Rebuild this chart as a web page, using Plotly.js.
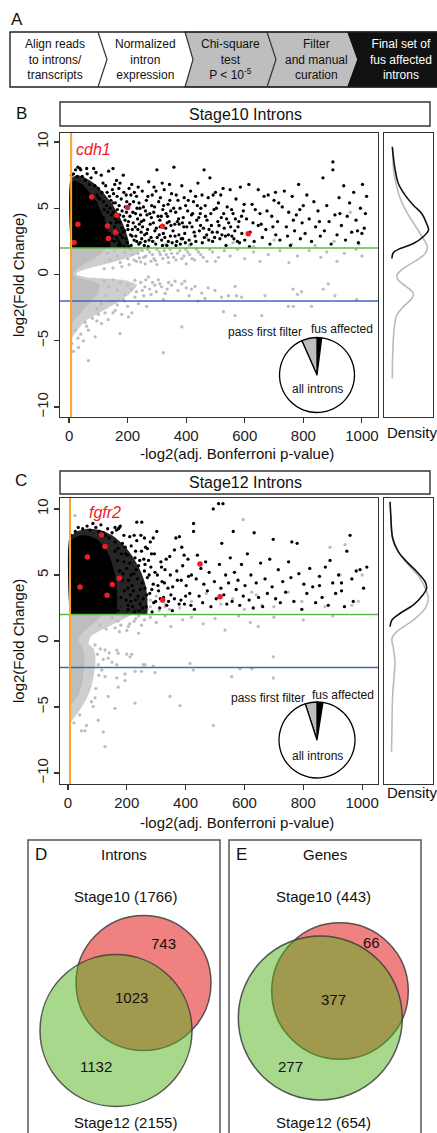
<!DOCTYPE html>
<html><head><meta charset="utf-8">
<script src="https://cdn.plot.ly/plotly-3.0.1.min.js"></script>
<style>html,body{margin:0;padding:0;background:#fff;}#chart{width:437px;height:1133px;}</style>
</head><body><div id="chart"></div>
<script>
// ---------------- DATA ----------------
const xTickVals = [0, 200, 400, 600, 800, 1000];
const yTickVals = [-10, -5, 0, 5, 10];
const foldThresholds = [2, -2];
const pThreshold = 7;

const flowSteps = ["Align reads<br>to introns/<br>transcripts", "Normalized<br>intron<br>expression",
  "Chi-square<br>test<br>P &lt; 10<sup>-5</sup>", "Filter<br>and manual<br>curation", "Final set of<br>fus affected<br>introns"];

// Stage10: outlines of the densest point clouds (core = solid, halo = dense)
const s10BlackCore = [[5,2],[5,6.8],[20,7.1],[45,6.8],[70,6.2],[95,5.4],[115,4.5],[130,3.6],[138,2.8],[142,2]];
const s10BlackHalo = [[5,2],[5,7.2],[25,7.5],[55,7.3],[90,6.8],[120,6.1],[148,5.3],[172,4.4],[190,3.5],[203,2.6],[207,2]];
const s10GrayCore = [[5,2],[125,2],[105,1.5],[68,1.0],[35,0.55],[18,0.2],[14,0],[30,-0.25],[70,-0.45],[105,-0.8],[95,-1.5],[68,-2.2],[40,-2.9],[20,-3.4],[5,-3.7]];
const s10GrayHalo = [[5,2],[255,2],[228,1.5],[170,1.05],[110,0.7],[60,0.42],[30,0.18],[25,0],[60,-0.2],[130,-0.3],[195,-0.45],[232,-0.8],[205,-1.5],[158,-2.2],[110,-2.8],[62,-3.4],[32,-4.1],[13,-4.7],[5,-4.9]];
const s10Black = [[15,7.6],[28,7.4],[40,7.9],[55,7.1],[62,7.6],[70,6.8],[75,7.3],[88,6.7],[95,6.0],[100,6.5],[105,5.7],[112,6.2],[118,5.5],[120,4.9],[125,6.7],[128,5.2],[132,4.7],[138,5.9],[140,5.0],[142,3.9],[145,4.5],[148,6.4],[155,3.6],[158,4.2],[162,2.8],[165,3.3],[168,4.0],[172,2.4],[176,3.0],[92,7.7],[110,7.5],[135,7.8],[84,8.0],[60,8.0],[30,8.1],[118,4.3],[126,3.6],[145,2.6],[150,5.4],[116,6.9],[130,6.2],[100,5.8],[92,5.4],[22,7.9],[45,7.4],[8,7.5],[150,8.0],[37,8.0],
[152,6.1],[158,5.4],[165,4.9],[170,6.5],[175,3.9],[178,5.7],[182,2.8],[186,4.4],[190,3.3],[195,6.0],[198,2.4],[203,4.0],[207,5.3],[210,3.0],[214,6.8],[218,4.7],[222,2.6],[226,3.6],[230,5.9],[234,4.2],[238,2.3],[242,5.0],[246,3.2],[250,6.3],[155,2.5],[160,3.1],[168,2.2],[173,4.5],[185,7.5],[192,5.1],[200,3.7],[212,2.2],[220,5.5],[228,2.9],[236,6.6],[244,4.5],[248,2.7],[162,7.1],[180,3.5],[205,6.5],[240,3.8],[216,3.4],[232,5.0],[196,4.7],[188,2.1],
[135,2.3],[138,3.1],[143,5.6],[147,2.9],[152,4.7],[156,6.8],[161,3.9],[164,5.9],[167,2.6],[171,5.2],[174,6.9],[177,2.2],[181,4.8],[184,3.2],[187,6.2],[191,4.1],[194,2.7],[197,5.5],[201,3.4],[204,2.1],[208,4.4],[211,6.0],[215,2.9],[219,3.9],[223,6.2],[227,4.6],[231,2.5],[235,3.4],[239,5.4],[243,2.4],[247,4.0],[251,3.6],[254,5.1],[257,2.2],[261,4.8],[265,3.1],[269,5.9],[273,2.6],[277,3.8],[281,4.3],[285,2.5],[289,4.7],[293,3.3],[297,6.3],[301,2.8],[306,5.5],[311,3.6],[315,4.4],[319,2.2],[323,5.2],[327,2.8],[331,4.6],[335,3.9],[339,2.5],[343,6.8],[347,4.8],[352,2.4],[357,5.0],[361,3.8],[365,2.2],[370,4.0],[375,3.0],[379,5.0],[383,2.7],[387,3.9],[393,5.8],[397,2.4],[402,3.6],[407,5.6],[412,3.9],[417,2.3],[422,4.6],[427,3.2],[433,2.5],[438,5.2],[443,4.3],[449,3.7],[454,6.0],[459,3.5],[465,5.2],[471,4.1],[477,2.6],[484,4.6],[489,3.2],[497,2.8],[503,5.0],[512,3.7],[518,6.0],[528,4.6],[534,2.9],[544,3.0],[555,4.9],[563,2.7],[577,3.6],[589,4.4],
[255,4.1],[260,2.5],[264,5.6],[268,3.4],[272,7.0],[276,4.6],[280,2.8],[284,6.0],[288,3.9],[292,5.1],[296,2.3],[300,7.9],[304,4.4],[308,3.0],[312,5.8],[316,2.6],[320,4.9],[325,6.4],[330,3.5],[334,2.2],[338,5.3],[342,4.0],[346,2.9],[350,6.1],[355,3.3],[358,8.1],[364,4.7],[368,2.5],[372,5.6],[376,3.8],[380,2.3],[385,6.7],[390,4.3],[395,3.1],[398,5.2],[258,3.0],[266,4.5],[282,5.2],[298,3.5],[310,4.1],[322,3.1],[336,4.4],[348,3.7],[362,2.9],[374,4.2],[388,2.7],[270,2.1],[290,6.6],[318,6.9],[344,5.6],[366,6.0],[392,3.6],
[405,4.8],[410,2.6],[415,6.3],[420,3.6],[425,5.5],[430,2.9],[436,4.1],[440,6.9],[445,3.3],[450,5.0],[455,2.4],[461,7.9],[466,4.4],[470,3.0],[475,5.8],[481,7.3],[486,3.7],[490,2.5],[495,4.9],[500,6.2],[506,3.2],[510,5.4],[515,2.7],[520,4.3],[526,6.5],[530,3.5],[536,2.2],[540,5.1],[545,3.9],[550,6.4],[556,2.9],[560,4.6],[566,3.3],[570,5.7],[575,2.5],[580,4.0],[585,6.6],[590,3.1],[595,4.8],[600,2.6],[418,4.5],[448,4.6],[478,3.4],[508,4.0],[538,4.2],[568,4.2],[598,5.3],[432,5.9],[462,2.8],[492,6.0],[522,3.0],[552,3.6],[582,2.4],
[606,4.2],[614,6.8],[618,3.2],[625,5.3],[632,2.5],[646,6.4],[646,3.7],[652,4.6],[660,2.8],[666,5.9],[672,3.4],[680,6.0],[686,2.3],[692,4.4],[700,5.6],[706,3.0],[712,4.0],[720,2.6],[728,5.1],[735,6.3],[742,3.6],[750,4.7],[756,2.2],[762,5.9],[770,3.3],[776,4.5],[784,6.8],[790,2.7],[796,3.9],[800,5.2],[616,2.1],[636,4.9],[656,3.8],[676,4.8],[696,3.6],[716,5.4],[746,2.9],[766,4.1],[788,4.9],[628,3.9],[705,6.2],
[806,3.1],[812,6.0],[820,4.2],[828,2.5],[836,5.5],[842,3.6],[850,4.8],[858,2.9],[867,7.3],[872,3.3],[880,5.2],[888,4.0],[895,2.3],[901,8.5],[901,7.9],[908,4.5],[915,3.0],[922,5.8],[930,3.7],[938,6.7],[944,2.6],[950,4.4],[958,5.4],[965,3.2],[972,6.2],[980,4.1],[988,2.4],[995,5.0],[1000,3.1],[1002,6.8],[1008,3.5],[1012,4.6],[1016,5.9],[855,4.0],[925,4.6],[985,3.3]];
const s10Gray = [[250,1.8],[262,1.4],[275,1.7],[290,1.2],[300,1.9],[312,1.5],[325,1.8],[338,1.3],[350,1.6],[365,1.1],[378,1.8],[392,1.4],[405,1.7],[420,1.2],[435,1.9],[450,1.5],[471,1.0],[490,1.7],[510,1.3],[530,1.8],[550,1.4],[575,1.9],[600,1.2],[630,1.7],[652,1.0],[680,1.5],[720,1.8],[751,0.9],[780,1.4],[820,1.8],[860,1.3],[880,1.7],[915,1.0],[940,1.6],[980,1.9],[1000,1.4],[230,1.0],[260,0.8],[300,0.75],[340,0.9],[400,0.8],[205,0.75],[180,0.6],[150,0.5],[120,0.45],[280,1.0],[240,1.25],[215,1.5],
[130,1.6],[140,1.1],[155,1.8],[165,1.4],[175,0.9],[190,1.7],[200,1.2],[210,1.9],[222,1.1],[235,1.6],[245,0.95],[255,1.3],[268,1.9],[285,1.5],[295,1.05],[308,1.7],[320,1.2],[332,1.5],[345,1.9],[357,1.3],[370,1.6],[385,1.2],[398,1.9],[412,1.5],[428,1.1],[442,1.7],[458,1.3],[480,1.9],[500,1.0],
[120,-0.5],[135,-0.9],[150,-0.4],[165,-1.2],[175,-0.6],[190,-1.5],[200,-0.8],[212,-1.1],[230,-1.3],[245,-0.6],[255,-1.6],[262,-0.4],[275,-1.1],[285,-0.6],[298,-1.3],[310,-0.7],[322,-1.9],[335,-1.1],[350,-0.8],[372,-1.2],[395,-0.5],[410,-1.6],[430,-0.9],[440,-2.0],[475,-1.0],[140,-2.0],[165,-2.3],[190,-2.0],[125,-1.6],[110,-2.2],[95,-2.6],[80,-3.3],[55,-3.6],[100,-3.0],
[225,-0.43],[259,-0.93],[271,-0.18],[293,-0.8],[305,-0.4],[316,-0.93],[328,-1.43],[340,-0.6],[362,-0.5],[385,-0.7],[400,-1.0],[418,-1.1],[453,-1.4],[464,-1.8],[498,-1.2],[521,-1.7],[527,-2.8],[544,-1.6],[567,-0.9],[567,-3.1],[572,-1.6],[589,-1.7],[658,-3.1],[669,-1.6],[749,-2.4],[765,-1.1],[766,-2.4],[780,-1.5],[794,-1.3],[828,-2.4],[868,-1.1],[885,-0.7],[908,-1.6],[982,-1.9],[385,-3.95],[322,-5.9],[174,-4.45],[66,-6.5],[32,-5.5],[89,-4.7],[49,-5.0],[111,-3.7],[20,-4.2],[123,-2.9],[157,-2.7],[180,-3.0],[203,-3.2],[237,-2.2],[265,-2.4],[225,-1.7],[185,-1.9],[214,-2.9],[134,-3.4],[66,-4.2],[9,-5.2],[250,-1.2],[280,-1.5],[200,-2.4],[150,-2.9],[95,-3.5],[60,-3.9],[30,-4.8],[15,-5.8],[40,-4.5],
[290,2.5],[330,2.3],[410,2.2],[470,2.8],[560,2.4],[630,2.1],[700,2.6],[760,2.3],[840,2.2],[905,2.5],[990,2.3],[960,4.7]];
const s10Red = [[77,5.86],[200,5.06],[163,4.48],[30,3.80],[131,3.67],[159,3.19],[134,2.72],[319,3.65],[612,3.07],[17,2.41]];

// Stage12
const s12BlackCore = [[5,2],[5,7.4],[20,7.8],[50,8.0],[80,7.9],[105,7.6],[128,7.0],[145,6.2],[158,5.2],[166,4.1],[168,3.0],[165,2]];
const s12BlackHalo = [[5,2],[5,7.8],[30,8.3],[70,8.5],[110,8.4],[150,8.0],[188,7.3],[220,6.4],[245,5.4],[262,4.4],[270,3.3],[270,2]];
const s12GrayCore = [[5,2],[115,2],[96,1.5],[68,1.0],[45,0.5],[35,0],[48,-0.4],[56,-1.2],[54,-2.2],[48,-3.2],[37,-4.0],[20,-4.6],[5,-4.9]];
const s12GrayHalo = [[5,2],[215,2],[185,1.6],[148,1.2],[110,0.8],[78,0.35],[70,-0.2],[88,-0.6],[94,-1.5],[88,-2.6],[78,-3.6],[58,-4.6],[35,-5.4],[15,-6.0],[5,-6.2]];
const s12Black = [[10,8.0],[25,8.3],[35,8.6],[50,8.5],[65,8.7],[75,8.4],[85,8.9],[95,8.6],[105,8.3],[112,8.8],[120,8.2],[128,8.0],[135,8.5],[140,7.8],[150,8.2],[160,7.5],[165,8.4],[170,7.0],[175,8.6],[178,8.7],[182,6.6],[185,7.4],[190,6.0],[195,7.1],[200,5.5],[203,6.5],[206,4.6],[210,5.9],[212,3.5],[215,7.2],[218,4.2],[220,2.6],[224,5.1],[228,6.3],[230,3.1],[234,7.6],[236,4.7],[240,5.7],[242,2.3],[246,3.9],[250,6.8],[252,4.4],[256,3.2],[260,5.3],[264,7.1],[266,2.6],[270,4.8],[274,6.1],[278,3.6],[282,5.6],[286,2.2],[290,4.3],[294,6.6],[298,3.0],[302,8.3],[304,5.0],[308,3.8],[312,2.5],[316,6.0],[320,4.5],[325,3.3],[330,5.4],[336,2.7],[340,4.0],[346,6.4],[350,3.5],[234,9.0],[251,9.0],[210,7.9],[225,8.0],[190,8.0],[160,8.6],[172,8.5],[260,7.8],[280,7.5],[248,8.0],[270,7.0],[290,7.8],[245,2.8],[262,4.0],[285,3.9],[232,5.4],[258,6.2],[205,2.4],[226,2.2],[214,3.0],
[160,6.8],[168,6.1],[176,5.3],[184,4.6],[192,3.8],[198,3.1],[205,2.7],[170,2.3],[180,3.3],[188,5.1],[196,6.6],[204,4.0],[214,5.0],[222,3.8],[230,6.8],[238,3.4],[244,6.1],[254,2.5],[262,5.8],[268,3.5],[276,5.0],[284,6.6],[292,2.9],[296,5.2],[306,4.2],[314,3.2],[318,5.6],[328,4.4],[334,6.2],[342,3.0],[348,5.0],[356,4.1],[362,3.2],[370,5.3],[378,2.8],[385,4.6],[395,6.5],[400,3.4],[410,4.9],[418,2.7],
[355,2.3],[362,6.9],[367,7.8],[372,4.6],[379,7.9],[384,3.1],[387,7.1],[390,5.7],[396,2.8],[402,4.2],[408,6.2],[414,3.6],[420,5.0],[427,8.9],[427,8.3],[430,2.4],[436,4.7],[440,6.5],[446,3.4],[452,5.5],[458,2.9],[462,4.3],[468,6.0],[474,3.8],[480,5.2],[486,2.6],[494,10.0],[498,4.5],[504,3.2],[512,10.4],[515,5.8],[520,4.0],[523,7.4],[527,10.4],[530,3.5],[536,5.0],[540,2.8],[546,4.4],[552,6.3],[558,3.0],[562,8.3],[566,5.2],[572,3.9],[578,4.6],[584,2.7],[590,5.8],[596,3.4],[602,4.2],[610,6.6],[616,3.1],[622,5.0],[630,2.5],[633,8.2],[640,4.4],[648,3.3],[655,5.9],[662,2.6],[670,4.7],[678,3.6],[686,6.2],[694,4.1],[698,7.7],[706,3.2],[715,5.4],[722,2.9],[730,4.5],[740,3.7],[750,6.0],[758,4.8],[761,7.5],[768,3.0],[779,7.4],[785,5.1],[795,2.4],[802,4.3],[812,3.6],[822,5.5],[832,4.1],[842,2.9],[855,4.2],[855,4.9],[864,3.3],[875,5.6],[885,2.7],[891,6.1],[900,4.4],[910,3.6],[920,5.0],[930,4.4],[930,3.8],[940,2.6],[948,6.8],[959,8.0],[965,4.7],[970,3.0],[980,5.3],[993,5.4],[1005,4.0],[1016,5.6]];
const s12Gray = [[150,1.8],[170,1.5],[190,1.9],[210,1.3],[230,1.7],[250,1.2],[280,1.8],[300,1.4],[330,1.9],[350,1.1],[390,1.6],[420,1.8],[460,1.3],[500,1.7],[534,0.83],[580,1.9],[620,1.4],[647,1.1],[700,1.8],[800,1.6],[900,1.9],[160,1.0],[200,0.8],[130,0.9],[110,1.2],[180,1.2],[240,0.6],[225,1.5],[260,1.6],[240,1.9],[205,1.1],[175,0.7],
[92,-0.3],[126,-0.68],[171,-0.93],[200,-1.0],[217,-1.0],[256,-1.8],[228,-2.3],[103,-1.8],[115,-2.2],[126,-2.7],[166,-2.8],[194,-3.0],[171,-3.5],[137,-4.2],[92,-4.3],[86,-4.97],[160,-5.1],[228,-4.7],[120,-6.9],[126,-8.0],[63,-6.4],[46,-6.8],[58,-6.8],[103,-6.0],[347,-4.2],[381,-4.9],[494,-6.4],[296,-2.4],[290,-1.9],[415,-1.7],[426,-2.2],[557,-2.7],[585,-2.1],[625,-2.1],[698,-1.2],[698,-2.8],[262,-1.8],[250,-2.3],[166,-1.8],[194,-2.5],[137,-1.3],[211,-1.2],[166,-0.7],[100,-1.0],[105,-2.6],[95,-3.6],[80,-4.6],[40,-5.6],[20,-6.2],[110,-0.6],[140,-0.9],[120,-1.4],[150,-1.6],
[24,9.5],[596,9.2],[891,7.1],[942,7.3],[925,5.0],[1000,5.0],[625,3.7],[659,2.7],[749,3.7],[795,3.0],[874,2.6],[965,2.7],[987,3.0],[420,3.0],[380,2.5],[520,2.8],[560,3.2],[600,2.4],[700,2.6],[640,3.5],[470,3.6],[330,2.8],[280,2.6],[250,3.0],[200,2.3],[230,2.4],[180,2.6],
[230,2.3],[250,2.6],[270,2.4],[290,2.9],[310,2.3],[330,2.6],[240,3.2],[300,3.4],[260,2.2],[320,3.0],[345,2.4],[280,3.1]];
const s12Red = [[114,8.03],[126,7.15],[66,6.36],[449,5.83],[175,4.75],[151,4.27],[41,4.09],[133,3.46],[517,3.36],[322,3.11]];

// density curves [y, density]
const dens10Black = [[9.64,0.02],[8.0,0.09],[6.87,0.18],[5.99,0.36],[5.23,0.58],[4.60,0.80],[3.85,0.93],[3.35,0.98],[2.85,0.84],[2.34,0.58],[1.96,0.23],[1.66,0.05],[1.21,0.01]];
const dens10Gray = [[9.5,0.03],[7.75,0.06],[5.99,0.2],[4.73,0.40],[3.72,0.62],[2.72,0.84],[2.09,0.95],[1.58,0.89],[1.08,0.67],[0.45,0.31],[-0.05,0.14],[-0.43,0.18],[-0.93,0.40],[-1.43,0.58],[-1.81,0.54],[-2.44,0.31],[-3.07,0.14],[-4.08,0.07],[-6.09,0.03],[-7.85,0.02]];
const dens12Black = [[10.55,-0.04],[9.55,-0.02],[7.78,0.03],[6.77,0.18],[6.01,0.40],[5.25,0.67],[4.49,0.89],[3.99,0.93],[3.48,0.83],[2.73,0.58],[2.10,0.23],[1.59,0.01],[1.08,-0.04]];
const dens12Gray = [[9.5,-0.02],[8.5,0.0],[7.52,0.05],[6.52,0.23],[5.63,0.49],[4.75,0.76],[3.74,0.93],[3.23,0.98],[2.47,0.89],[1.59,0.58],[0.71,0.14],[0.20,0.01],[-0.55,0.05],[-1.57,0.09],[-2.58,0.07],[-4.09,0.03],[-6.61,0.01],[-8.39,0.0]];

// pie fractions (%): fus affected, pass first filter, all introns (rest)
const pieLabels = ["fus affected", "pass first filter", "all introns"];
const pie10 = [2.0, 6.6, 91.4];
const pie12 = [2.5, 5.0, 92.5];

// Venn counts [only Stage10, both, only Stage12]
const vennIntrons = [743, 1023, 1132];
const vennGenes = [66, 377, 277];

// ---------------- HELPERS ----------------
const W = 437, H = 1133;
const dx = p => p / W, dy = p => 1 - p / H;
const FONT = 'Liberation Sans, Arial, Helvetica, sans-serif';
const xs = a => a.map(p => p[0]), ys = a => a.map(p => p[1]);
const GRAY = '#BDBDBD';

function cloud(poly, color, xa, ya) {
  return {type:'scatter', mode:'lines', x: xs(poly), y: ys(poly), fill:'toself', fillcolor: color,
    line:{color:'rgba(0,0,0,0)', width:0, shape:'spline', smoothing:0.6}, xaxis:xa, yaxis:ya, hoverinfo:'skip'};
}
function scatterSet(d, xa, ya) {
  return [
    cloud(d.grayHalo, 'rgba(189,189,189,0.75)', xa, ya),
    cloud(d.grayCore, GRAY, xa, ya),
    {type:'scatter', mode:'markers', x: xs(d.gray), y: ys(d.gray), marker:{color:GRAY, size:3.3}, xaxis:xa, yaxis:ya},
    cloud(d.blackHalo, 'rgba(0,0,0,0.85)', xa, ya),
    cloud(d.blackCore, '#000', xa, ya),
    {type:'scatter', mode:'markers', x: xs(d.black), y: ys(d.black), marker:{color:'#000', size:3.3}, xaxis:xa, yaxis:ya},
    {type:'scatter', mode:'markers', x: xs(d.red), y: ys(d.red), marker:{color:'#EE1C24', size:5.5}, xaxis:xa, yaxis:ya}
  ];
}
function densSet(bl, gr, xa, ya) {
  return [
    {type:'scatter', mode:'lines', x: gr.map(p=>p[1]), y: gr.map(p=>p[0]), line:{color:'#BBBBBB', width:1.6, shape:'spline'}, xaxis:xa, yaxis:ya},
    {type:'scatter', mode:'lines', x: bl.map(p=>p[1]), y: bl.map(p=>p[0]), line:{color:'#111', width:1.6, shape:'spline'}, xaxis:xa, yaxis:ya}
  ];
}
function pieTrace(vals, cx, cy, r) {
  return {type:'pie', values: vals, labels: pieLabels, sort:false, direction:'counterclockwise', rotation:0,
    marker:{colors:['#000', GRAY, '#fff'], line:{color:'#000', width:1.3}}, textinfo:'none', hoverinfo:'none',
    domain:{x:[dx(cx-r), dx(cx+r)], y:[dy(cy+r), dy(cy-r)]}, showlegend:false};
}

const traces = [].concat(
  scatterSet({black:s10Black, gray:s10Gray, red:s10Red, blackCore:s10BlackCore, blackHalo:s10BlackHalo, grayCore:s10GrayCore, grayHalo:s10GrayHalo}, 'x', 'y'),
  densSet(dens10Black, dens10Gray, 'x2', 'y2'),
  scatterSet({black:s12Black, gray:s12Gray, red:s12Red, blackCore:s12BlackCore, blackHalo:s12BlackHalo, grayCore:s12GrayCore, grayHalo:s12GrayHalo}, 'x3', 'y3'),
  densSet(dens12Black, dens12Gray, 'x4', 'y4'),
  [pieTrace(pie10, 317, 375, 37.5), pieTrace(pie12, 317, 740, 38),
   {type:'scatter', mode:'markers', x:[0], y:[0], marker:{opacity:0}, xaxis:'x5', yaxis:'y5', hoverinfo:'skip'}]
);

const axLine = {showline:true, mirror:true, linecolor:'#333', linewidth:1.3, showgrid:false, zeroline:false};
function mainX(dom, rng, anchor) {
  return Object.assign({}, axLine, {domain:dom, range:rng, anchor:anchor, tickvals:xTickVals, ticks:'outside', ticklen:5, tickwidth:1.2, tickcolor:'#333', tickfont:{family:FONT, size:15, color:'#222'}});
}
function mainY(dom, rng, anchor) {
  return Object.assign({}, axLine, {domain:dom, range:rng, anchor:anchor, tickvals:yTickVals, tickangle:-90, ticks:'outside', ticklen:5, tickwidth:1.2, tickcolor:'#333', tickfont:{family:FONT, size:15, color:'#222'}});
}
function densAx(dom, rng, anchor) {
  return Object.assign({}, axLine, {domain:dom, range:rng, anchor:anchor, showticklabels:false, ticks:''});
}

const xB = [-31, 1055], yB = [-10.75, 10.68], xC = [-27, 1054], yC = [-10.83, 10.83];
const domXMain = [dx(60), dx(378)], domXDens = [dx(384), dx(433)];
const domYB = [dy(417), dy(133)], domYC = [dy(784), dy(498)];

// ---------------- SHAPES ----------------
const P = (o) => Object.assign({xref:'x5', yref:'y5'}, o);
const shapes = [];
shapes.push(P({type:'path', path:'M185,32 L348,32 L358,59.5 L348,87 L185,87 L193,59.5 Z', fillcolor:'#BEBEBE', line:{color:'#333', width:1.2}}));
shapes.push(P({type:'path', path:'M348,32 L445,32 L445,87 L348,87 L358,59.5 Z', fillcolor:'#111', line:{color:'#111', width:1.2}}));
shapes.push(P({type:'path', path:'M445,32 L10,32 L10,87 L445,87', line:{color:'#222', width:1.4}}));
shapes.push(P({type:'path', path:'M98,32 L107,59.5 L98,87', line:{color:'#333', width:1.2}}));
shapes.push(P({type:'path', path:'M267,32 L276,59.5 L267,87', line:{color:'#333', width:1.2}}));
shapes.push(P({type:'rect', x0:60, x1:430, y0:102, y1:126, line:{color:'#333', width:1.4}}));
shapes.push(P({type:'rect', x0:60, x1:430, y0:471, y1:494, line:{color:'#333', width:1.4}}));
[['x','y'],['x3','y3']].forEach(([xa,ya]) => {
  shapes.push({type:'line', xref:xa+' domain', x0:0, x1:1, yref:ya, y0:foldThresholds[0], y1:foldThresholds[0], line:{color:'#5DBB46', width:1.5}});
  shapes.push({type:'line', xref:xa+' domain', x0:0, x1:1, yref:ya, y0:foldThresholds[1], y1:foldThresholds[1], line:{color:'#4463C4', width:1.5}});
  shapes.push({type:'line', xref:xa, x0:pThreshold, x1:pThreshold, yref:ya+' domain', y0:0, y1:1, line:{color:'#F7A52B', width:2}});
});
shapes.push(P({type:'rect', x0:28, x1:220, y0:840, y1:1145, line:{color:'#555', width:1.5}}));
shapes.push(P({type:'rect', x0:229, x1:421, y0:840, y1:1145, line:{color:'#555', width:1.5}}));
const circ = (cx, cy, r, fill) => P({type:'circle', x0:cx-r, x1:cx+r, y0:cy-r, y1:cy+r, fillcolor:fill, line:{color:'rgba(60,60,60,0.85)', width:1.5}});
const RED = 'rgba(226,4,4,0.5)', GREEN = 'rgba(82,178,26,0.5)';
shapes.push(circ(143.5, 983, 67.5, RED));
shapes.push(circ(116, 1030.5, 76, GREEN));
shapes.push(circ(340, 991, 68.3, RED));
shapes.push(circ(320.3, 1018, 82, GREEN));

// ---------------- ANNOTATIONS ----------------
const A = (x, y, text, size, extra) => Object.assign({xref:'x5', yref:'y5', x:x, y:y, text:text, showarrow:false, font:{family:FONT, size:size, color:'#111'}}, extra || {});
const ann = [];
ann.push(A(17, 19, 'A', 17));
const flowX = [55, 145, 230, 316, 401];
flowSteps.forEach((t, i) => ann.push(A(flowX[i], 59.5, t, 12, {font:{family:FONT, size:12, color: i === 4 ? '#fff' : '#111'}})));
ann.push(A(21, 113.5, 'B', 17));
ann.push(A(245, 114, 'Stage10 Introns', 16));
ann.push(A(21, 480, 'C', 17));
ann.push(A(245, 482.5, 'Stage12 Introns', 16));
[[275, 453, 432], [641, 822, 792]].forEach(([cy, ty, dyl]) => {
  ann.push(A(18, cy, 'log2(Fold Change)', 15, {textangle:-90}));
  ann.push(A(237, ty, '-log2(adj. Bonferroni p-value)', 15));
  ann.push(A(385, dyl, 'Density', 15, {xanchor:'left'}));
});
ann.push(A(265, 332, 'pass first filter', 12));
ann.push(A(342, 329, 'fus affected', 12));
ann.push(A(317, 389, 'all introns', 12));
ann.push(A(268, 698, 'pass first filter', 12));
ann.push(A(343, 695, 'fus affected', 12));
ann.push(A(317, 756, 'all introns', 12));
ann.push({xref:'x', yref:'y', x:85, y:9.4, text:'<i>cdh1</i>', showarrow:false, font:{family:FONT, size:16, color:'#EE1C24'}});
ann.push({xref:'x3', yref:'y3', x:126, y:9.7, text:'<i>fgfr2</i>', showarrow:false, font:{family:FONT, size:16, color:'#EE1C24'}});
ann.push(A(41, 854, 'D', 17));
ann.push(A(124, 854, 'Introns', 15));
ann.push(A(241, 854, 'E', 17));
ann.push(A(325, 854, 'Genes', 15));
ann.push(A(125, 896, 'Stage10 (' + (vennIntrons[0] + vennIntrons[1]) + ')', 15));
ann.push(A(125, 1122, 'Stage12 (' + (vennIntrons[1] + vennIntrons[2]) + ')', 15));
ann.push(A(163, 943, String(vennIntrons[0]), 15));
ann.push(A(131, 997, String(vennIntrons[1]), 15));
ann.push(A(96, 1066, String(vennIntrons[2]), 15));
ann.push(A(323, 896, 'Stage10 (' + (vennGenes[0] + vennGenes[1]) + ')', 15));
ann.push(A(323, 1122, 'Stage12 (' + (vennGenes[1] + vennGenes[2]) + ')', 15));
ann.push(A(371, 942, String(vennGenes[0]), 15));
ann.push(A(333, 999, String(vennGenes[1]), 15));
ann.push(A(290, 1066, String(vennGenes[2]), 15));

const layout = {
  width: W, height: H, margin:{l:0, r:0, t:0, b:0, pad:0},
  paper_bgcolor:'#fff', plot_bgcolor:'rgba(0,0,0,0)', showlegend:false,
  font:{family:FONT, color:'#111'},
  xaxis: mainX(domXMain, xB, 'y'), yaxis: mainY(domYB, yB, 'x'),
  xaxis2: densAx(domXDens, [-0.2, 1.1], 'y2'), yaxis2: densAx(domYB, yB, 'x2'),
  xaxis3: mainX(domXMain, xC, 'y3'), yaxis3: mainY(domYC, yC, 'x3'),
  xaxis4: densAx(domXDens, [-0.2, 1.1], 'y4'), yaxis4: densAx(domYC, yC, 'x4'),
  xaxis5: {domain:[0,1], range:[0, W], anchor:'y5', visible:false, fixedrange:true},
  yaxis5: {domain:[0,1], range:[H, 0], anchor:'x5', visible:false, fixedrange:true},
  shapes: shapes, annotations: ann
};
Plotly.newPlot('chart', traces, layout, {staticPlot:true, displayModeBar:false});
</script></body></html>
